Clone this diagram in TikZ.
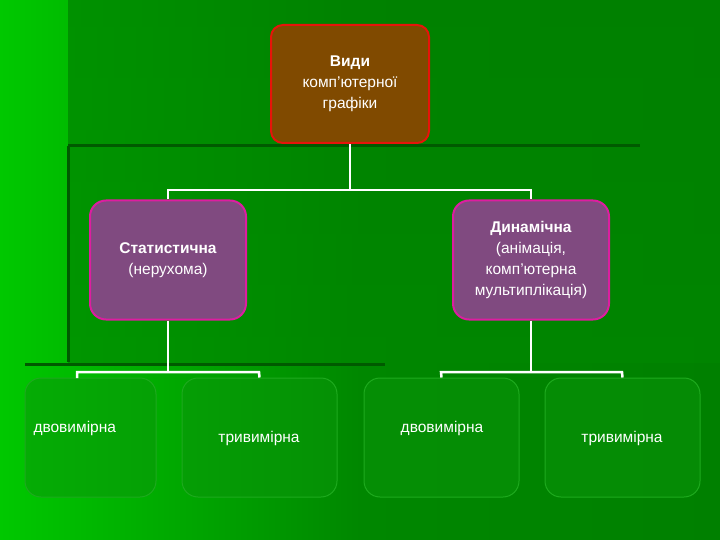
\documentclass[tikz,border=0pt]{standalone}
\usepackage{fontspec}
\setmainfont{Liberation Sans}
\definecolor{bgL}{RGB}{0,200,0}
\definecolor{bgM}{RGB}{0,135,0}
\definecolor{bgR}{RGB}{0,128,0}
\definecolor{deco}{RGB}{0,90,0}
\definecolor{topF}{RGB}{128,74,0}
\definecolor{topD}{RGB}{230,20,10}
\definecolor{midF}{RGB}{128,74,128}
\definecolor{midD}{RGB}{220,30,160}
\definecolor{leafF}{RGB}{10,150,10}
\definecolor{leafD}{RGB}{30,170,30}
\begin{document}
\begin{tikzpicture}[x=1pt,y=-1pt,
  every node/.style={font=\fontsize{15.5}{21}\selectfont, text=white, align=center},
  topbox/.style={draw=topD, line width=2pt, fill=topF, rounded corners=12pt, minimum width=158pt, minimum height=118pt},
  midbox/.style={draw=midD, line width=2pt, fill=midF, rounded corners=16pt, minimum width=156pt, minimum height=119pt},
  leafbox/.style={draw=leafD, line width=1pt, fill=leafF, fill opacity=0.5, rounded corners=16pt, minimum width=155pt, minimum height=119pt},
  conn/.style={draw=white, line width=2.5pt}]
\useasboundingbox (0,0) rectangle (720,540);
\shade[left color=bgL, right color=bgR, middle color=bgM] (0,0) rectangle (720,540);
\shade[top color=bgR, bottom color=bgM, opacity=0.7] (68,0) rectangle (720,362);
\draw[deco, line width=3pt] (68,146) -- (640,146);
\draw[deco, line width=3pt] (68,146) -- (68,362);
\draw[deco, line width=3pt] (25,364) -- (385,364);

\node[topbox] (top) at (350,84) {\textbf{Види}\\комп'ютерної\\графіки};
\node[midbox] (st) at (168,260) {\textbf{Статистична}\\(нерухома)};
\node[midbox] (dy) at (531,260) {\textbf{Динамічна}\\(анімація,\\комп'ютерна\\мультиплікація)};
\node[leafbox, minimum width=131pt] (l1) at (90.5,437.5) {};
\node[anchor=west] (t1) at (30,428) {двовимірна};
\node[leafbox] (l2) at (259.5,437.5) {};
\node (t2) at (259,438) {тривимірна};
\node[leafbox] (l3) at (441.5,437.5) {};
\node (t3) at (442,428) {двовимірна};
\node[leafbox] (l4) at (622.5,437.5) {};
\node (t4) at (622,438) {тривимірна};

\coordinate (a) at (350,190);
\draw[conn] (top.south) -- (a);
\draw[conn] (st.north) -- (168,190) -- (531,190) -- (dy.north);
\draw[conn] (st.south) -- (168,372);
\draw[conn] (77,378) -- (77,372) -- (259,372) -- (l2.north);
\draw[conn] (dy.south) -- (531,372);
\draw[conn] (l3.north) -- (441,372) -- (622,372) -- (l4.north);
\end{tikzpicture}
\end{document}
